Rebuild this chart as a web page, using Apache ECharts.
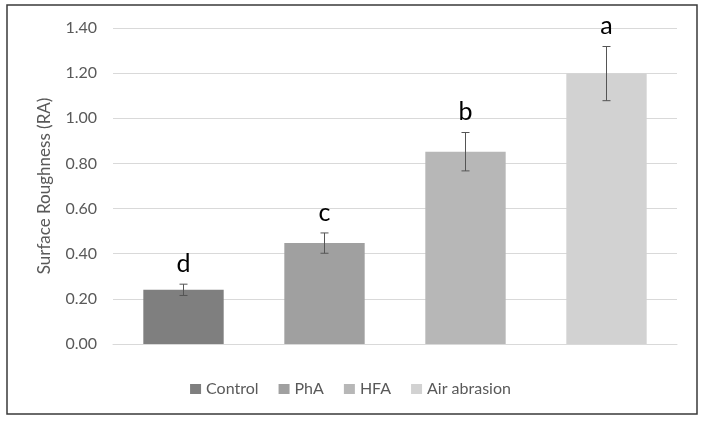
<!DOCTYPE html>
<html>
<head>
<meta charset="utf-8">
<script src="https://cdn.jsdelivr.net/npm/echarts@6/dist/echarts.min.js"></script>
<style>
  html, body { margin: 0; padding: 0; background: #fff; }
  #roughness_chart { width: 701px; height: 422px; }
</style>
</head>
<body>
<div id="roughness_chart"></div>
<script>
  const categories = ['Control', 'PhA', 'HFA', 'Air abrasion'];
  const meanRa = [0.24, 0.447, 0.852, 1.198];
  const errRa = [0.025, 0.045, 0.085, 0.12];
  const groupLetters = ['d', 'c', 'b', 'a'];
  const yTicks = [0, 0.2, 0.4, 0.6, 0.8, 1.0, 1.2, 1.4];

  const barColors = ['#7f7f7f', '#a0a0a0', '#b7b7b7', '#d2d2d2'];
  const font = 'Lato, "Open Sans", sans-serif';

  const chart = echarts.init(document.getElementById('roughness_chart'));

  // one bar series per treatment so the legend gets four entries
  const barSeries = categories.map((name, i) => ({
    name: name,
    type: 'bar',
    barGap: '-100%',
    barWidth: '57%',
    itemStyle: { color: barColors[i] },
    data: categories.map((c, j) => (j === i ? meanRa[i] : '-'))
  }));

  const errData = categories.map((c, i) => [i, meanRa[i], errRa[i]]);

  const errSeries = {
    name: 'err',
    type: 'custom',
    z: 10,
    data: errData,
    renderItem: function (params, api) {
      const x = api.value(0);
      const m = api.value(1);
      const e = api.value(2);
      const hi = api.coord([x, m + e]);
      const lo = api.coord([x, m - e]);
      const cap = 4;
      const style = { stroke: '#555555', lineWidth: 1 };
      return {
        type: 'group',
        children: [
          { type: 'line', shape: { x1: hi[0], y1: hi[1], x2: lo[0], y2: lo[1] }, style: style },
          { type: 'line', shape: { x1: hi[0] - cap, y1: hi[1], x2: hi[0] + cap, y2: hi[1] }, style: style },
          { type: 'line', shape: { x1: lo[0] - cap, y1: lo[1], x2: lo[0] + cap, y2: lo[1] }, style: style },
          {
            type: 'text',
            style: {
              x: hi[0],
              y: hi[1] - 8,
              text: groupLetters[params.dataIndex],
              fill: '#000',
              font: '25px ' + font,
              textAlign: 'center',
              textVerticalAlign: 'bottom'
            }
          }
        ]
      };
    }
  };

  const option = {
    animation: false,
    backgroundColor: '#fff',
    textStyle: { fontFamily: font },
    graphic: [
      {
        type: 'rect',
        shape: { x: 7, y: 5, width: 690, height: 409 },
        style: { fill: 'none', stroke: '#3a3a3a', lineWidth: 1.5 },
        silent: true
      }
    ],
    grid: { left: 113, right: 24, top: 28, bottom: 78 },
    legend: {
      data: categories,
      top: 376,
      left: 'center',
      icon: 'rect',
      itemWidth: 11,
      itemHeight: 10,
      itemGap: 20,
      textStyle: { color: '#595959', fontSize: 16, fontFamily: font }
    },
    xAxis: {
      type: 'category',
      data: categories,
      axisLine: { lineStyle: { color: '#d9d9d9', width: 1 } },
      axisTick: { show: false },
      axisLabel: { show: false }
    },
    yAxis: {
      type: 'value',
      min: yTicks[0],
      max: yTicks[yTicks.length - 1],
      interval: 0.2,
      name: 'Surface Roughness (RA)',
      nameLocation: 'middle',
      nameGap: 60,
      nameTextStyle: { color: '#595959', fontSize: 17, fontFamily: font },
      axisLine: { show: false },
      axisTick: { show: false },
      axisLabel: {
        color: '#595959',
        fontSize: 16,
        margin: 16,
        formatter: v => v.toFixed(2)
      },
      splitLine: { lineStyle: { color: '#d9d9d9', width: 1 } }
    },
    series: barSeries.concat([errSeries])
  };

  chart.setOption(option);
</script>
</body>
</html>
